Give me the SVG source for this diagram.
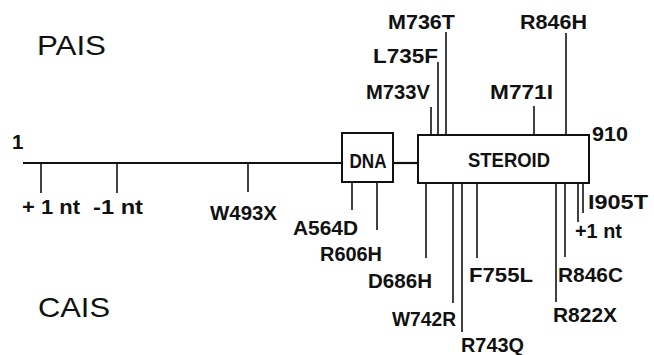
<svg xmlns="http://www.w3.org/2000/svg" width="654" height="355" viewBox="0 0 654 355">
<style>
.lbl{font-family:"Liberation Sans",Arial,sans-serif;font-size:20.5px;font-weight:bold;fill:#111}
.big{font-family:"Liberation Sans",Arial,sans-serif;font-size:28px;fill:#111}
.box{fill:#fff;stroke:#111;stroke-width:2}
.tick{stroke:#111;stroke-width:1.6;fill:none}
.axis{stroke:#111;stroke-width:2.2;fill:none}
</style>
<rect width="654" height="355" fill="#fff"/>
<g id="connectors">
<line class="axis" x1="23" y1="163" x2="342" y2="163"/>
<line class="axis" x1="393" y1="163" x2="418" y2="163" stroke-width="3"/>
<line class="tick" x1="41" y1="163" x2="41" y2="193"/>
<line class="tick" x1="117" y1="163" x2="117" y2="193"/>
<line class="tick" x1="248" y1="163" x2="248" y2="192"/>
<line class="tick" x1="352" y1="182" x2="352" y2="210"/>
<line class="tick" x1="377" y1="182" x2="377" y2="230"/>
<line class="tick" x1="426" y1="183" x2="426" y2="258"/>
<line class="tick" x1="453" y1="183" x2="453" y2="303"/>
<line class="tick" x1="462" y1="183" x2="462" y2="332"/>
<line class="tick" x1="477" y1="183" x2="477" y2="258"/>
<line class="tick" x1="556" y1="183" x2="556" y2="302"/>
<line class="tick" x1="565" y1="183" x2="565" y2="257"/>
<line class="tick" x1="578" y1="183" x2="578" y2="222"/>
<line class="tick" x1="583" y1="183" x2="583" y2="213"/>
<line class="tick" x1="431" y1="107" x2="431" y2="135"/>
<line class="tick" x1="438" y1="62" x2="438" y2="135"/>
<line class="tick" x1="446" y1="32" x2="446" y2="135"/>
<line class="tick" x1="534" y1="106" x2="534" y2="135"/>
<line class="tick" x1="566" y1="33" x2="566" y2="135"/>
</g>
<g id="pais"><text class="big" x="37" y="55" textLength="69" lengthAdjust="spacingAndGlyphs">PAIS</text></g>
<g id="cais"><text class="big" x="38" y="317" textLength="72" lengthAdjust="spacingAndGlyphs">CAIS</text></g>
<g id="start"><text class="lbl" x="12" y="149">1</text></g>
<g id="end"><text class="lbl" x="592" y="141" textLength="36" lengthAdjust="spacingAndGlyphs">910</text></g>
<g id="dna">
<rect class="box" x="342" y="133" width="51" height="49"/>
<text class="lbl" x="368" y="168" text-anchor="middle" font-size="17" textLength="37" lengthAdjust="spacingAndGlyphs">DNA</text>
</g>
<g id="steroid">
<rect class="box" x="418" y="135" width="171" height="48"/>
<text class="lbl" x="509" y="167" text-anchor="middle" font-size="17" textLength="82" lengthAdjust="spacingAndGlyphs">STEROID</text>
</g>
<g id="m-plus1nt"><text class="lbl" x="22" y="214" textLength="58" lengthAdjust="spacingAndGlyphs">+ 1 nt</text></g>
<g id="m-minus1nt"><text class="lbl" x="93" y="214" textLength="50" lengthAdjust="spacingAndGlyphs">-1 nt</text></g>
<g id="m-W493X"><text class="lbl" x="210" y="220" textLength="67" lengthAdjust="spacingAndGlyphs">W493X</text></g>
<g id="m-A564D"><text class="lbl" x="293" y="235" textLength="65" lengthAdjust="spacingAndGlyphs">A564D</text></g>
<g id="m-R606H"><text class="lbl" x="320" y="261" textLength="62" lengthAdjust="spacingAndGlyphs">R606H</text></g>
<g id="m-D686H"><text class="lbl" x="368" y="288" textLength="64" lengthAdjust="spacingAndGlyphs">D686H</text></g>
<g id="m-W742R"><text class="lbl" x="392" y="326" textLength="64" lengthAdjust="spacingAndGlyphs">W742R</text></g>
<g id="m-R743Q"><text class="lbl" x="461" y="352" textLength="63" lengthAdjust="spacingAndGlyphs">R743Q</text></g>
<g id="m-F755L"><text class="lbl" x="469" y="282" textLength="64" lengthAdjust="spacingAndGlyphs">F755L</text></g>
<g id="m-R822X"><text class="lbl" x="553" y="322" textLength="64" lengthAdjust="spacingAndGlyphs">R822X</text></g>
<g id="m-R846C"><text class="lbl" x="558" y="282" textLength="65" lengthAdjust="spacingAndGlyphs">R846C</text></g>
<g id="m-plus1nt-b"><text class="lbl" x="575" y="238" textLength="47" lengthAdjust="spacingAndGlyphs">+1 nt</text></g>
<g id="m-I905T"><text class="lbl" x="588" y="209" textLength="60" lengthAdjust="spacingAndGlyphs">I905T</text></g>
<g id="m-M736T"><text class="lbl" x="388" y="29" textLength="67" lengthAdjust="spacingAndGlyphs">M736T</text></g>
<g id="m-L735F"><text class="lbl" x="373" y="63" textLength="65" lengthAdjust="spacingAndGlyphs">L735F</text></g>
<g id="m-M733V"><text class="lbl" x="366" y="99" textLength="64" lengthAdjust="spacingAndGlyphs">M733V</text></g>
<g id="m-M771I"><text class="lbl" x="490" y="99" textLength="63" lengthAdjust="spacingAndGlyphs">M771I</text></g>
<g id="m-R846H"><text class="lbl" x="520" y="29" textLength="67" lengthAdjust="spacingAndGlyphs">R846H</text></g>
</svg>
